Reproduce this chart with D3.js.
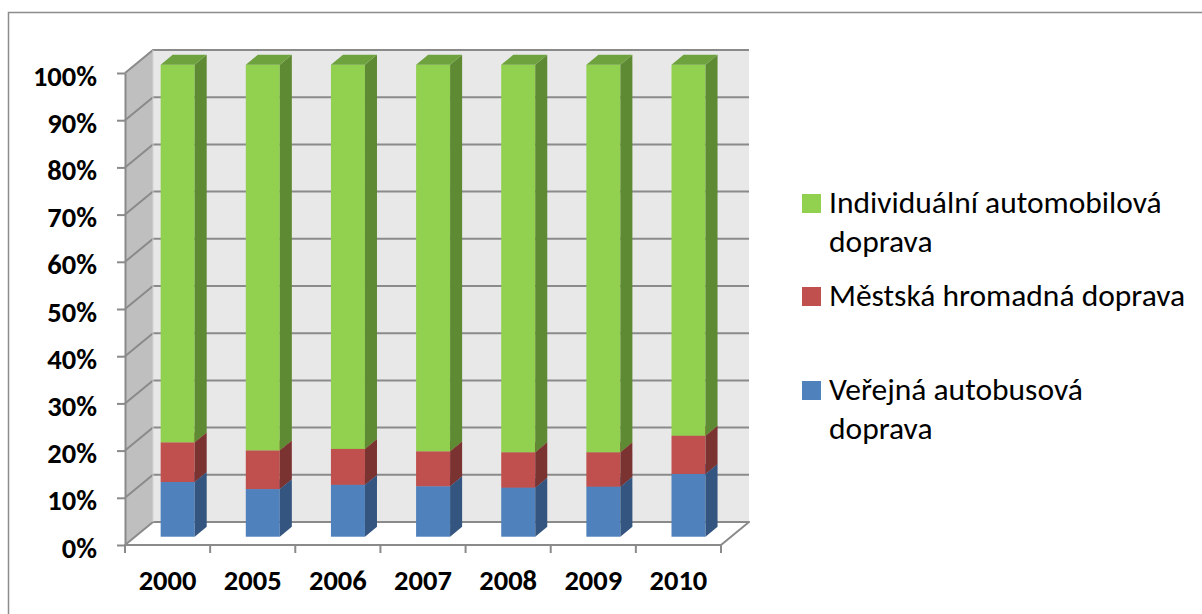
<!DOCTYPE html>
<html>
<head>
<meta charset="utf-8">
<script src="https://cdn.jsdelivr.net/npm/d3@7/dist/d3.min.js"></script>
<style>
  html, body { margin: 0; padding: 0; background: #ffffff; }
  svg { display: block; }
  text { font-family: Carlito, Calibri, "Open Sans", sans-serif; fill: #000; }
</style>
</head>
<body>
<svg id="chart" width="1202" height="614"></svg>
<script>
// Modal split of passenger transport, shares per year
const years = ["2000", "2005", "2006", "2007", "2008", "2009", "2010"];
const seriesNames = [
  "Veřejná autobusová doprava",
  "Městská hromadná doprava",
  "Individuální automobilová doprava"
];
const busShare   = [0.116, 0.101, 0.110, 0.107, 0.104, 0.106, 0.133];
const cityShare  = [0.084, 0.082, 0.076, 0.074, 0.075, 0.073, 0.081];
const carShare   = [0.800, 0.817, 0.814, 0.819, 0.821, 0.821, 0.786];
const yTicks = [0, 0.1, 0.2, 0.3, 0.4, 0.5, 0.6, 0.7, 0.8, 0.9, 1.0];

const colors = {
  front: ["#4F81BD", "#C0504D", "#92D050"],
  side:  ["#34557F", "#7B3331", "#5E8A33"],
  top:   ["#4572A8", "#A54442", "#6EA23F"]
};
const fontFamily = "Carlito, Calibri, 'Open Sans', sans-serif";
const axisFontSize = 28.5;
const legendFontSize = 31.5;

const svg = d3.select("#chart");

// Outer frame
svg.append("rect")
  .attr("x", 8.5).attr("y", 12.5)
  .attr("width", 1220).attr("height", 620)
  .attr("fill", "none").attr("stroke", "#8c8c8c").attr("stroke-width", 1.5);

// Plot box: front plane and oblique depth offset
const x0 = 125, x1 = 721;
const depthX = 28, depthY = 23;
const x = d3.scaleBand().domain(years).range([x0, x1]).paddingInner(0).paddingOuter(0);
const y = d3.scaleLinear().domain([0, 1]).range([545, 73]);
const proj = (px, v, z) => [px + depthX * z, y(v) - depthY * z];
const pts = arr => arr.map(p => p.join(",")).join(" ");

const gridColor = "#8a8a8a";
const g = svg.append("g");

// Left side wall
g.append("polygon")
  .attr("points", pts([proj(x0, 0, 0), proj(x0, 1, 0), proj(x0, 1, 1), proj(x0, 0, 1)]))
  .attr("fill", "#bfbfbf");

// Back wall
g.append("polygon")
  .attr("points", pts([proj(x0, 0, 1), proj(x0, 1, 1), proj(x1, 1, 1), proj(x1, 0, 1)]))
  .attr("fill", "#e8e8e8");

// Floor
g.append("polygon")
  .attr("points", pts([proj(x0, 0, 0), proj(x1, 0, 0), proj(x1, 0, 1), proj(x0, 0, 1)]))
  .attr("fill", "#ffffff").attr("stroke", gridColor).attr("stroke-width", 2).attr("stroke-linejoin", "round");

// Gridlines on the left wall and back wall
yTicks.forEach(v => {
  if (v === 0) return;
  g.append("polyline")
    .attr("points", pts([proj(x0, v, 0), proj(x0, v, 1), proj(x1, v, 1)]))
    .attr("fill", "none").attr("stroke", gridColor).attr("stroke-width", 2);
});
// Back-left corner edge
g.append("line")
  .attr("x1", proj(x0, 0, 1)[0]).attr("y1", proj(x0, 0, 1)[1])
  .attr("x2", proj(x0, 1, 1)[0]).attr("y2", proj(x0, 1, 1)[1])
  .attr("stroke", "#d4d4d4").attr("stroke-width", 1);

// Stacked 3D columns
const zFront = 0.36, zBack = 0.79, barW = 34;
const stacks = years.map((yr, i) => [busShare[i], cityShare[i], carShare[i]]);
const bars = g.append("g");
years.forEach((yr, i) => {
  const cx = x(yr) + x.bandwidth() / 2;
  const left = cx - barW / 2, right = cx + barW / 2;
  let base = 0;
  stacks[i].forEach((val, s) => {
    const lo = base, hi = base + val;
    base = hi;
    // front face
    const fl = proj(left, hi, zFront), fr = proj(right, lo, zFront);
    bars.append("rect")
      .attr("x", fl[0]).attr("y", fl[1])
      .attr("width", fr[0] - fl[0]).attr("height", fr[1] - fl[1])
      .attr("fill", colors.front[s]);
    // right side face
    bars.append("polygon")
      .attr("points", pts([proj(right, lo, zFront), proj(right, hi, zFront), proj(right, hi, zBack), proj(right, lo, zBack)]))
      .attr("fill", colors.side[s]);
    // top face
    bars.append("polygon")
      .attr("points", pts([proj(left, hi, zFront), proj(right, hi, zFront), proj(right, hi, zBack), proj(left, hi, zBack)]))
      .attr("fill", colors.top[s]);
  });
});

// Value axis on the front-left edge
const yAxis = d3.axisLeft(y).tickValues(yTicks).tickFormat(d3.format(".0%"))
  .tickSizeInner(8).tickSizeOuter(0).tickPadding(20);
const ya = svg.append("g").attr("transform", `translate(${x0},0)`).call(yAxis);
ya.select(".domain").attr("stroke", gridColor).attr("stroke-width", 2);
ya.selectAll(".tick line").attr("stroke", gridColor).attr("stroke-width", 2);
ya.selectAll(".tick text")
  .attr("font-size", axisFontSize).attr("font-weight", "bold")
  .attr("font-family", fontFamily)
  .attr("y", 3).attr("fill", "#000");

// Category axis on the front floor edge
const bounds = years.map(yr => x(yr)).concat([x1]);
const xa = svg.append("g");
xa.append("line").attr("x1", x0).attr("x2", x1).attr("y1", y(0)).attr("y2", y(0))
  .attr("stroke", gridColor).attr("stroke-width", 2);
xa.selectAll("line.tick").data(bounds).enter().append("line")
  .attr("class", "tick")
  .attr("x1", d => d).attr("x2", d => d).attr("y1", y(0)).attr("y2", y(0) + 8)
  .attr("stroke", gridColor).attr("stroke-width", 2);
xa.selectAll("text").data(years).enter().append("text")
  .attr("x", d => x(d) + x.bandwidth() / 2).attr("y", 590)
  .attr("text-anchor", "middle")
  .attr("font-size", axisFontSize).attr("font-weight", "bold")
  .text(d => d);

// Legend
const legendItems = [
  { lines: ["Individuální automobilová", "doprava"], color: colors.front[2], top: 194 },
  { lines: ["Městská hromadná doprava"], color: colors.front[1], top: 287 },
  { lines: ["Veřejná autobusová", "doprava"], color: colors.front[0], top: 381 }
];
const lg = svg.append("g");
legendItems.forEach(item => {
  lg.append("rect").attr("x", 802).attr("y", item.top).attr("width", 19).attr("height", 19)
    .attr("fill", item.color);
  const t = lg.append("text").attr("x", 829).attr("y", item.top + 19).attr("font-size", legendFontSize);
  item.lines.forEach((ln, k) => {
    t.append("tspan").attr("x", 829).attr("dy", k === 0 ? 0 : 38.5).text(ln);
  });
});
</script>
</body>
</html>
